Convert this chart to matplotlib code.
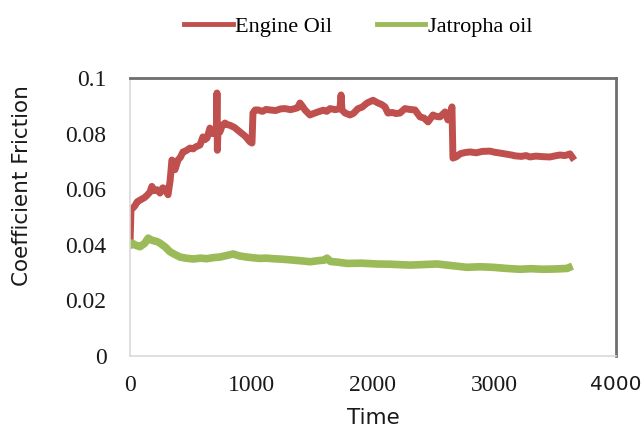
import matplotlib
matplotlib.use("Agg")
import matplotlib.pyplot as plt

# ---- data ----
engine_time = [0, 8, 40, 60, 80, 100, 120, 140, 165, 180, 200, 225, 247, 270, 290, 313,
               330, 345, 360, 370, 395, 415, 436, 460, 494, 520, 540, 576, 600, 615,
               634, 658, 680, 700, 712, 716, 719, 724, 740, 760, 782, 800, 823, 860,
               905, 950, 988, 1004, 1012, 1030, 1053, 1090, 1120, 1152, 1200, 1240,
               1276, 1320, 1358, 1380, 1399, 1420, 1440, 1481, 1510, 1547, 1590, 1620,
               1646, 1690, 1728, 1737, 1745, 1770, 1811, 1840, 1877, 1910, 1951, 2000,
               2041, 2070, 2099, 2123, 2160, 2190, 2222, 2263, 2300, 2346, 2387, 2420,
               2453, 2494, 2520, 2551, 2593, 2617, 2635, 2650, 2658, 2683, 2720, 2760,
               2798, 2850, 2900, 2963, 3000, 3045, 3100, 3140, 3169, 3220, 3260, 3292,
               3340, 3400, 3457, 3500, 3539, 3580, 3621, 3640]
engine_cof = [0.040, 0.0525, 0.054, 0.0555, 0.056, 0.0565, 0.057, 0.0578, 0.059, 0.061,
              0.0595, 0.0598, 0.0586, 0.0605, 0.060, 0.058, 0.063, 0.0705, 0.0690,
              0.067, 0.0705, 0.0715, 0.0734, 0.0738, 0.0748, 0.0745, 0.0752, 0.0759,
              0.0788, 0.0778, 0.0784, 0.082, 0.0800, 0.0806, 0.081, 0.0946, 0.074,
              0.081, 0.0806, 0.0830, 0.0838, 0.0832, 0.083, 0.0822, 0.0806, 0.0790,
              0.077, 0.0766, 0.0874, 0.0885, 0.0885, 0.0880, 0.0887, 0.0885, 0.0883,
              0.0889, 0.089, 0.0886, 0.089, 0.0893, 0.091, 0.0898, 0.0885, 0.0867,
              0.0872, 0.0878, 0.0884, 0.0880, 0.089, 0.0886, 0.089, 0.0939, 0.0885,
              0.0874, 0.0867, 0.0873, 0.089, 0.0895, 0.091, 0.092, 0.091, 0.0905,
              0.0896, 0.0874, 0.0876, 0.0872, 0.0874, 0.089, 0.0887, 0.0885, 0.086,
              0.0856, 0.0842, 0.0867, 0.0862, 0.086, 0.0878, 0.0849, 0.0870, 0.0896,
              0.0712, 0.0716, 0.0728, 0.0732, 0.0734, 0.0731, 0.0736, 0.0737, 0.0733,
              0.073, 0.0726, 0.0723, 0.072, 0.0718, 0.0721, 0.0716, 0.0719, 0.0717,
              0.0716, 0.0720, 0.0723, 0.0721, 0.0727, 0.0715]

jatropha_time = [0, 16, 50, 82, 120, 150, 170, 192, 220, 247, 290, 329, 370, 411, 460,
                 521, 580, 631, 690, 741, 800, 850, 900, 960, 1020, 1070, 1120, 1180,
                 1260, 1342, 1420, 1481, 1550, 1600, 1621, 1650, 1720, 1786, 1900, 2033,
                 2150, 2305, 2420, 2527, 2650, 2774, 2880, 2988, 3100, 3210, 3300, 3400,
                 3500, 3597, 3613]
jatropha_cof = [0.040, 0.0406, 0.0398, 0.0393, 0.0405, 0.0424, 0.0418, 0.0415, 0.0412,
                0.0406, 0.0392, 0.0375, 0.0365, 0.0356, 0.0352, 0.0349, 0.0352, 0.035,
                0.0354, 0.0356, 0.0362, 0.0367, 0.0360, 0.0356, 0.0353, 0.0351, 0.0352,
                0.035, 0.0348, 0.0345, 0.0342, 0.0339, 0.0343, 0.0345, 0.0352, 0.034,
                0.0337, 0.0333, 0.0334, 0.0331, 0.0330, 0.0327, 0.0329, 0.0331, 0.0325,
                0.0319, 0.0321, 0.0319, 0.0315, 0.0312, 0.0314, 0.0312, 0.0313, 0.0315,
                0.0318]

x_ticks = [0, 1000, 2000, 3000, 4000]
x_tick_labels = ["0", "1000", "2000", "3000", "4000"]
y_ticks = [0, 0.02, 0.04, 0.06, 0.08, 0.1]
y_tick_labels = ["0", "0.02", "0.04", "0.06", "0.08", "0.1"]

plt.rcParams["font.family"] = ["Liberation Serif", "DejaVu Sans"]

W, H = 643, 432
fig = plt.figure(figsize=(W / 100, H / 100), dpi=100)
ax = fig.add_axes([130 / W, 1 - 356 / H, (616 - 130) / W, (356 - 78) / H])

red = "#C0504D"
green = "#9BBB59"
l1, = ax.plot(engine_time, engine_cof, color=red, lw=5, label="Engine Oil",
              solid_joinstyle="round")
l2, = ax.plot(jatropha_time, jatropha_cof, color=green, lw=5.5, label="Jatropha oil",
              solid_joinstyle="round")

ax.set_xlim(0, 4000)
ax.set_ylim(0, 0.1)
ax.tick_params(length=0)
ax.tick_params(axis="y", pad=17)
ax.tick_params(axis="x", pad=14)
ax.set_xticks(x_ticks, x_tick_labels, fontsize=17, color="#1a1a1a",
              family="Liberation Serif")
ax.set_yticks(y_ticks, y_tick_labels, fontsize=17, color="#1a1a1a",
              family="Liberation Serif")

for s in ("left", "bottom"):
    ax.spines[s].set_color("#D9D9D9")
    ax.spines[s].set_linewidth(1.2)
for s in ("top", "right"):
    ax.spines[s].set_color("#6E6E6E")
    ax.spines[s].set_linewidth(2)

fig.text(22 / W, 1 - 186 / H, "Coefficient Friction", rotation=90, ha="center",
         va="center", fontsize=15.5, family="DejaVu Sans", color="#1a1a1a")
fig.text(373 / W, 1 - 418 / H, "Time", ha="center", va="center", fontsize=15.5,
         family="DejaVu Sans", color="#1a1a1a")

leg = fig.legend(handles=[l1, l2], loc="center", bbox_to_anchor=(358 / W, 1 - 27 / H),
                 ncol=2, frameon=False, handlelength=2.2, handletextpad=0.1,
                 columnspacing=2.0, prop={"family": "Liberation Serif", "size": 16})
for h in leg.get_lines():
    h.set_linewidth(3.5)

fig.canvas.draw()
lab = ax.get_xticklabels()[-1]
lab.set_fontfamily("DejaVu Sans")
lab.set_fontsize(14.5)

fig.savefig("out.png", dpi=100)
